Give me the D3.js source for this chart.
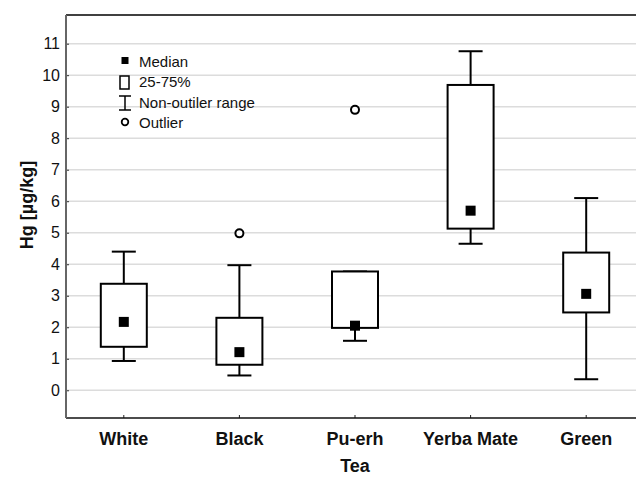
<!DOCTYPE html>
<html>
<head>
<meta charset="utf-8">
<script src="https://cdn.jsdelivr.net/npm/d3@7"></script>
<style>
  body { margin: 0; background: #fff; }
  svg { display: block; font-family: Arial, "Liberation Sans", sans-serif; }
</style>
</head>
<body>
<svg width="636" height="477"></svg>
<script>
var svg = d3.select('svg');

// data
var teas = ['White', 'Black', 'Pu-erh', 'Yerba Mate', 'Green'];
var whiskerLow  = [0.93, 0.47, 1.57, 4.65, 0.35];
var boxLow      = [1.38, 0.81, 1.98, 5.13, 2.47];
var medians     = [2.17, 1.21, 2.05, 5.70, 3.06];
var boxHigh     = [3.38, 2.30, 3.77, 9.69, 4.37];
var whiskerHigh = [4.40, 3.97, 3.77, 10.76, 6.10];
var outliers    = [null, 4.98, 8.90, null, null];
var yTicks = [0, 1, 2, 3, 4, 5, 6, 7, 8, 9, 10, 11];
var legendLabels = ['Median', '25-75%', 'Non-outiler range', 'Outlier'];

var plotL = 66, plotT = 15, plotR = 644, plotB = 418;

var x = d3.scaleBand().domain(teas).range([plotL, plotR]).padding(0);
var y = d3.scaleLinear().domain([-0.88, 11.91]).range([plotB, plotT]);

var rows = teas.map(function(t, i){
    return {tea: t, wl: whiskerLow[i], q1: boxLow[i], med: medians[i],
            q3: boxHigh[i], wh: whiskerHigh[i], out: outliers[i]};
});

// grid lines
svg.append('g')
    .selectAll('line')
    .data(yTicks)
    .enter()
    .append('line')
    .attr('x1', plotL)
    .attr('x2', 636)
    .attr('y1', function(d){ return y(d); })
    .attr('y2', function(d){ return y(d); })
    .attr('stroke', '#dcdcdc')
    .attr('stroke-width', 1.5);

// y axis
var yAxis = svg.append('g')
    .attr('transform', 'translate(' + plotL + ',0)')
    .call(d3.axisLeft(y).tickValues(yTicks).tickSize(-3).tickPadding(6));
yAxis.select('.domain').remove();
yAxis.selectAll('.tick line').attr('stroke', '#333');
yAxis.selectAll('text')
    .attr('font-size', 16)
    .attr('font-family', 'Arial, "Liberation Sans", sans-serif')
    .attr('fill', '#111');

// x axis
var xAxis = svg.append('g')
    .attr('transform', 'translate(0,' + plotB + ')')
    .call(d3.axisBottom(x).tickSize(-3).tickPadding(14));
xAxis.select('.domain').remove();
xAxis.selectAll('.tick line').attr('stroke', '#222');
xAxis.selectAll('text')
    .attr('font-size', 18)
    .attr('font-weight', 'bold')
    .attr('font-family', 'Arial, "Liberation Sans", sans-serif')
    .attr('fill', '#111');

// frame
svg.append('line')
    .attr('x1', plotL).attr('x2', 636)
    .attr('y1', plotT).attr('y2', plotT)
    .attr('stroke', '#000').attr('stroke-width', 1.5);
svg.append('line')
    .attr('x1', plotL).attr('x2', 636)
    .attr('y1', plotB).attr('y2', plotB)
    .attr('stroke', '#111').attr('stroke-width', 1.5);
svg.append('line')
    .attr('x1', plotL).attr('x2', plotL)
    .attr('y1', plotT).attr('y2', plotB)
    .attr('stroke', '#666').attr('stroke-width', 2);

var cx = function(d){ return x(d.tea) + x.bandwidth() / 2; };
var boxW = 46, capW = 24, medS = 10;

var g = svg.append('g');

// whiskers
g.selectAll('line.whisker')
    .data(rows)
    .enter()
    .append('line')
    .attr('class', 'whisker')
    .attr('x1', cx).attr('x2', cx)
    .attr('y1', function(d){ return y(d.wl); })
    .attr('y2', function(d){ return y(d.wh); })
    .attr('stroke', '#000').attr('stroke-width', 2);

g.selectAll('line.capHi')
    .data(rows)
    .enter()
    .append('line')
    .attr('class', 'capHi')
    .attr('x1', function(d){ return cx(d) - capW / 2; })
    .attr('x2', function(d){ return cx(d) + capW / 2; })
    .attr('y1', function(d){ return y(d.wh); })
    .attr('y2', function(d){ return y(d.wh); })
    .attr('stroke', '#000').attr('stroke-width', 2);

g.selectAll('line.capLo')
    .data(rows)
    .enter()
    .append('line')
    .attr('class', 'capLo')
    .attr('x1', function(d){ return cx(d) - capW / 2; })
    .attr('x2', function(d){ return cx(d) + capW / 2; })
    .attr('y1', function(d){ return y(d.wl); })
    .attr('y2', function(d){ return y(d.wl); })
    .attr('stroke', '#000').attr('stroke-width', 2);

// boxes
g.selectAll('rect.box')
    .data(rows)
    .enter()
    .append('rect')
    .attr('class', 'box')
    .attr('x', function(d){ return cx(d) - boxW / 2; })
    .attr('y', function(d){ return y(d.q3); })
    .attr('width', boxW)
    .attr('height', function(d){ return y(d.q1) - y(d.q3); })
    .attr('fill', '#fff')
    .attr('stroke', '#000').attr('stroke-width', 2);

// medians
g.selectAll('rect.med')
    .data(rows)
    .enter()
    .append('rect')
    .attr('class', 'med')
    .attr('x', function(d){ return cx(d) - medS / 2; })
    .attr('y', function(d){ return y(d.med) - medS / 2; })
    .attr('width', medS)
    .attr('height', medS)
    .attr('fill', '#000');

// outliers
g.selectAll('circle')
    .data(rows.filter(function(d){ return d.out != null; }))
    .enter()
    .append('circle')
    .attr('cx', cx)
    .attr('cy', function(d){ return y(d.out); })
    .attr('r', 4)
    .attr('fill', '#fff')
    .attr('stroke', '#000').attr('stroke-width', 2);

// legend
var lg = svg.append('g').attr('transform', 'translate(125,0)');
lg.append('rect').attr('x', -3.5).attr('y', 57).attr('width', 7).attr('height', 7).attr('fill', '#000');
lg.append('rect').attr('x', -5).attr('y', 76).attr('width', 9).attr('height', 13)
    .attr('fill', '#fff').attr('stroke', '#000').attr('stroke-width', 1.5);
lg.append('line').attr('x1', 0).attr('x2', 0).attr('y1', 96).attr('y2', 110).attr('stroke', '#000').attr('stroke-width', 1.5);
lg.append('line').attr('x1', -6).attr('x2', 6).attr('y1', 96).attr('y2', 96).attr('stroke', '#000').attr('stroke-width', 1.5);
lg.append('line').attr('x1', -6).attr('x2', 6).attr('y1', 110).attr('y2', 110).attr('stroke', '#000').attr('stroke-width', 1.5);
lg.append('circle').attr('cx', 0).attr('cy', 122).attr('r', 3.3)
    .attr('fill', '#fff').attr('stroke', '#000').attr('stroke-width', 1.8);

lg.selectAll('text')
    .data(legendLabels)
    .enter()
    .append('text')
    .attr('x', 14)
    .attr('y', function(d, i){ return 66.5 + i * 20.5; })
    .attr('font-size', 15)
    .attr('fill', '#111')
    .text(function(d){ return d; });

// axis titles
svg.append('text')
    .attr('x', 355)
    .attr('y', 472)
    .attr('text-anchor', 'middle')
    .attr('font-size', 18)
    .attr('font-weight', 'bold')
    .attr('fill', '#111')
    .text('Tea');

svg.append('text')
    .attr('transform', 'translate(33,205) rotate(-90)')
    .attr('text-anchor', 'middle')
    .attr('font-size', 18)
    .attr('font-weight', 'bold')
    .attr('fill', '#111')
    .text('Hg [µg/kg]');
</script>
</body>
</html>
